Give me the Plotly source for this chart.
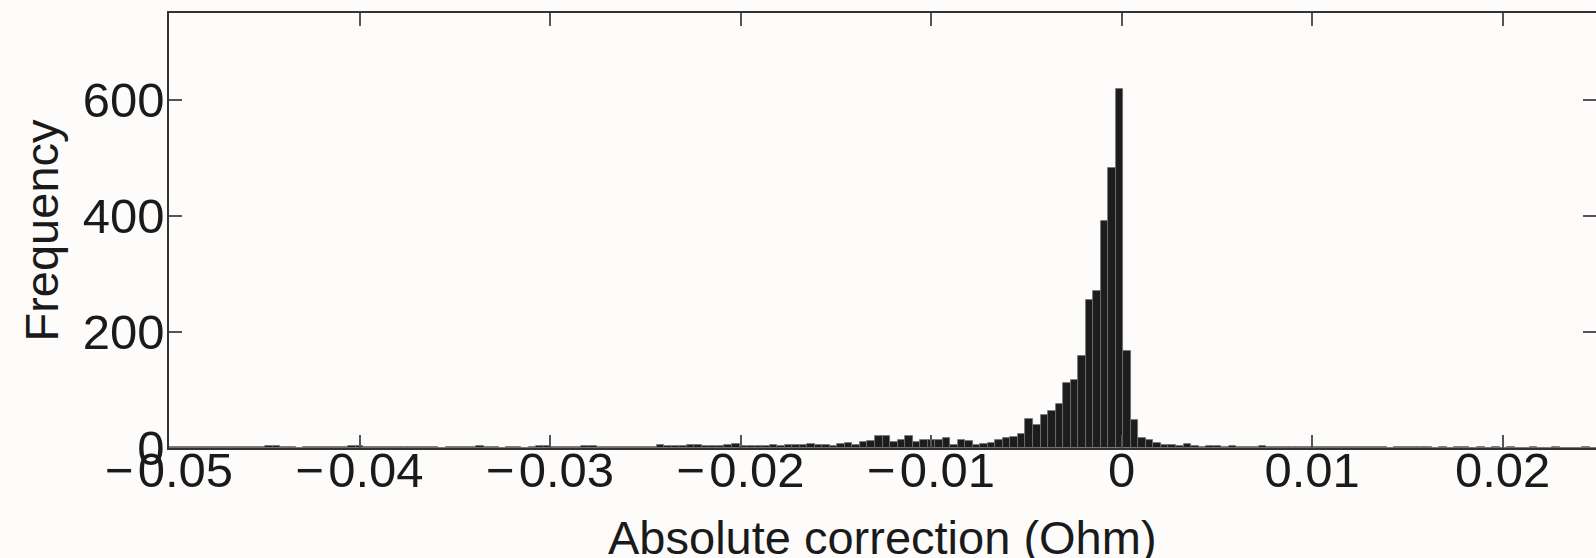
import plotly.graph_objects as go

# histogram bins (Ohm)
bin_start = -0.05047
bin_width = 0.000395

# counts per bin, left to right (200 bins)
counts = [
    1, 1, 1, 2, 2, 1, 2, 2, 2, 1,
    2, 1, 1, 1, 3, 3, 1, 1, 0, 1,
    2, 1, 1, 2, 1, 3, 3, 1, 2, 2,
    2, 1, 2, 2, 1, 1, 1, 0, 2, 1,
    1, 1, 4, 1, 1, 0, 1, 1, 0, 1,
    3, 3, 1, 1, 2, 1, 3, 3, 1, 1,
    1, 1, 2, 2, 2, 2, 5, 3, 3, 3,
    6, 6, 3, 3, 3, 6, 7, 4, 4, 3,
    3, 6, 3, 5, 5, 5, 7, 5, 5, 4,
    7, 9, 5, 11, 12, 20, 21, 10, 14, 21,
    11, 13, 13, 14, 18, 5, 14, 12, 5, 7,
    9, 13, 18, 19, 24, 50, 40, 57, 63, 76,
    112, 118, 158, 256, 270, 392, 482, 619, 168, 48,
    17, 13, 9, 6, 6, 4, 7, 3, 2, 4,
    3, 2, 3, 2, 1, 2, 3, 2, 2, 1,
    1, 2, 2, 1, 1, 2, 2, 1, 2, 2,
    1, 1, 1, 0, 1, 1, 2, 1, 1, 0,
    1, 0, 1, 1, 0, 1, 0, 2, 0, 1,
    0, 0, 1, 0, 0, 1, 0, 0, 0, 1,
    0, 0, 0, 0, 0, 0, 0, 1, 0, 0,
]

x_ticks = [-0.05, -0.04, -0.03, -0.02, -0.01, 0, 0.01, 0.02]
x_ticktext = ["\u2212\u200a0.05", "\u2212\u200a0.04", "\u2212\u200a0.03", "\u2212\u200a0.02",
              "\u2212\u200a0.01", "0", "0.01", "0.02"]
y_ticks = [0, 200, 400, 600]

centers = [bin_start + (i + 0.5) * bin_width for i in range(len(counts))]

FONT = "Liberation Sans, Arial, sans-serif"
BG = "#fdfcfa"

fig = go.Figure()
fig.add_trace(
    go.Bar(
        x=centers,
        y=counts,
        width=bin_width,
        marker=dict(color="#1c1c1c", line=dict(color="#707070", width=0.8)),
        showlegend=False,
    )
)

axis_common = dict(
    showgrid=False,
    zeroline=False,
    showline=True,
    linecolor="#333333",
    linewidth=1.5,
    mirror="ticks",
    ticks="inside",
    ticklen=13,
    tickwidth=1.5,
    tickcolor="#555555",
    automargin=False,
    tickfont=dict(family=FONT, size=49, color="#1a1a1a"),
)

fig.update_xaxes(
    range=[-0.05, 0.0249],
    tickvals=x_ticks,
    ticktext=x_ticktext,
    ticklabelstandoff=-22,
    **axis_common,
)
fig.update_yaxes(
    range=[0, 750],
    tickvals=y_ticks,
    ticklabelstandoff=-7,
    title=dict(text="Frequency", font=dict(family=FONT, size=47, color="#1a1a1a"), standoff=9),
    **axis_common,
)

# x title as annotation: axis titles get clamped inside the margin
fig.add_annotation(
    text="Absolute correction (Ohm)",
    xref="paper", yref="paper",
    x=0.5, y=0,
    xanchor="center", yanchor="middle",
    yshift=-89,
    showarrow=False,
    font=dict(family=FONT, size=47, color="#1a1a1a"),
)

fig.update_layout(
    width=1596,
    height=558,
    margin=dict(l=169, r=0, t=13, b=110, autoexpand=False),
    paper_bgcolor=BG,
    plot_bgcolor=BG,
    bargap=0,
)

# drop the default body margin so the figure fills the window exactly
fig.write_html(
    "out.html",
    config={"displayModeBar": False},
    post_script="document.body.style.margin='0';document.body.style.overflow='hidden';",
)
